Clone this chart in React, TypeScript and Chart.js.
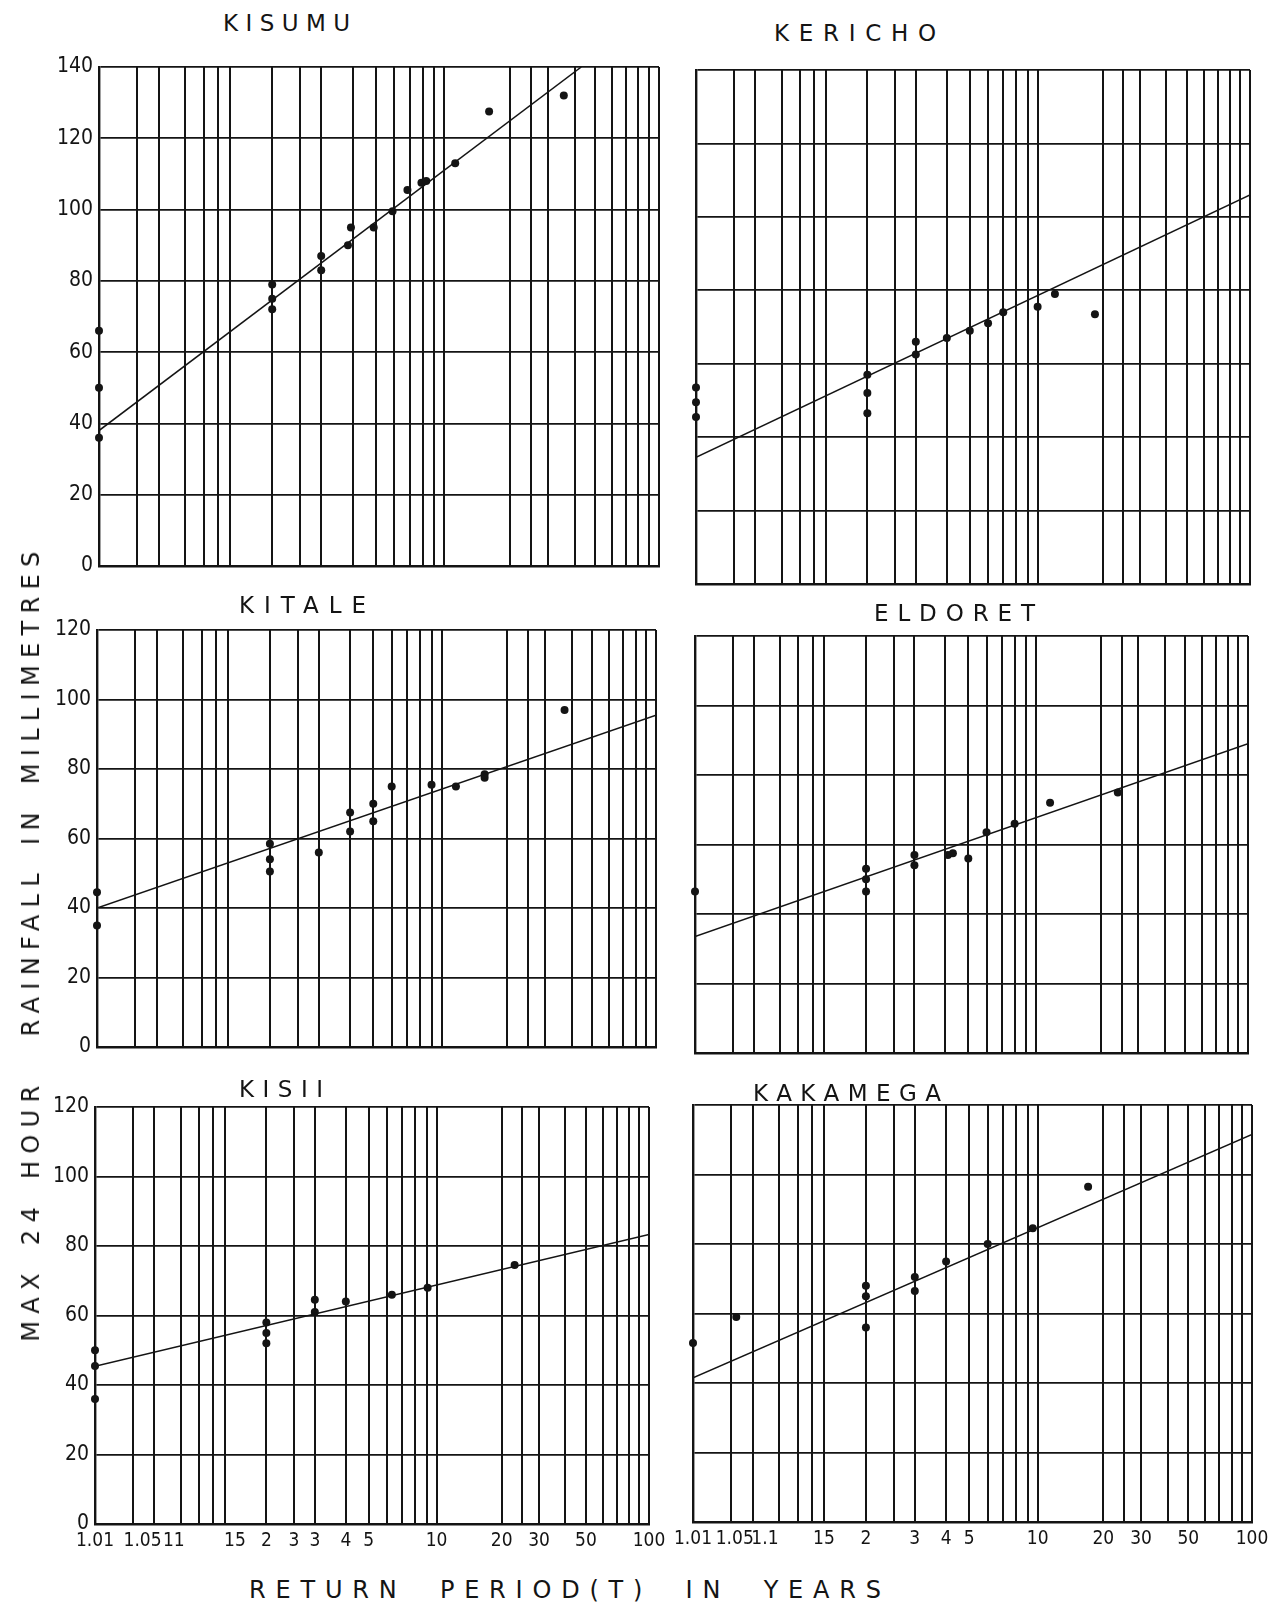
import React, { useEffect, useRef } from "react";
import { Chart, registerables } from "chart.js";

Chart.register(...registerables);

const INK = "#141414";
const TICK_FONT = "'Liberation Sans Narrow', 'DejaVu Sans Condensed', 'Liberation Sans', sans-serif";
const SANS = "'DejaVu Sans', 'Liberation Sans', sans-serif";

// Gumbel reduced variate for a return period T (years)
const gumbel = (T: number) => -Math.log(-Math.log(1 - 1 / T));

// Vertical rulings of the Gumbel probability paper (return periods, years)
const gridReturnPeriods = [1.01, 1.05, 1.1, 1.2, 1.3, 1.4, 1.5, 2, 2.5, 3, 4, 5, 6, 7, 8, 9, 10, 20, 25, 30, 40, 50, 60, 70, 80, 90, 100];

// Printed return-period labels under the bottom panels, and where each is printed (return period)
const leftAxisLabels = ["1.01", "1.05", "11", "15", "2", "3", "3", "4", "5", "10", "20", "30", "50", "100"];
const leftAxisLabelAt = [1.01, 1.07, 1.17, 1.6, 2, 2.5, 3, 4, 5, 10, 20, 30, 50, 100];
const rightAxisLabels = ["1.01", "1.05", "1.1", "15", "2", "3", "4", "5", "10", "20", "30", "50", "100"];
const rightAxisLabelAt = [1.01, 1.057, 1.14, 1.5, 2, 3, 4, 5, 10, 20, 30, 50, 100];

// KISUMU
const kisumuT = [1.01, 1.01, 1.01, 2, 2, 2, 3, 3, 3.83, 3.94, 4.9, 5.9, 6.85, 7.9, 8.3, 11.2, 16, 35.6];
const kisumuMm = [66, 50, 36, 79, 75, 72, 87, 83, 90, 95, 95, 99.5, 105.5, 107.5, 108, 113, 127.5, 132];
const kisumuLineT = [1.01, 43];
const kisumuLineMm = [38, 140];

// KERICHO
const kerichoT = [1.01, 1.01, 1.01, 2, 2, 2, 3, 3, 4, 5, 6, 7, 10, 12, 18.4];
const kerichoMm = [53.5, 49.5, 45.5, 57, 52, 46.5, 66, 62.5, 67, 69, 71, 74, 75.5, 79, 73.5];
const kerichoLineT = [1.01, 100];
const kerichoLineMm = [34.5, 106];

// KITALE
const kitaleT = [1.01, 1.01, 2, 2, 2, 3, 4, 4, 5, 5, 6, 9, 11.6, 15.7, 15.7, 37];
const kitaleMm = [44.5, 35, 58.5, 54, 50.5, 56, 62, 67.5, 70, 65, 75, 75.5, 75, 77.5, 78.5, 97];
const kitaleLineT = [1.01, 100];
const kitaleLineMm = [40, 95.5];

// ELDORET
const eldoretT = [1.01, 2, 2, 2, 3, 3, 4.1, 4.3, 5, 6, 8, 11.6, 24];
const eldoretMm = [46.5, 53, 50, 46.5, 57, 54, 57, 57.5, 56, 63.5, 66, 72, 75];
const eldoretLineT = [1.01, 100];
const eldoretLineMm = [33.5, 89];

// KISII
const kisiiT = [1.01, 1.01, 1.01, 2, 2, 2, 3, 3, 4, 6.3, 9.1, 23];
const kisiiMm = [50, 45.5, 36, 58, 55, 52, 64.5, 61, 64, 66, 68, 74.5];
const kisiiLineT = [1.01, 100];
const kisiiLineMm = [45.4, 83.3];

// KAKAMEGA
const kakamegaT = [1.01, 1.06, 2, 2, 2, 3, 3, 4, 6, 9.5, 17];
const kakamegaMm = [51.5, 59, 68, 65, 56, 70.5, 66.5, 75, 80, 84.5, 96.5];
const kakamegaLineT = [1.01, 100];
const kakamegaLineMm = [41.5, 111.5];

type PanelCfg = {
  name: string;
  T: number[];
  mm: number[];
  lineT: number[];
  lineMm: number[];
  yMax: number;
  showY: boolean;
  labelAt: number[] | null;
  labels: string[] | null;
  plot: [number, number, number, number]; // left, top, right, bottom (page px)
  title: [number, number, number]; // left, right, center y
};

const panels: PanelCfg[] = [
  { name: "KISUMU", T: kisumuT, mm: kisumuMm, lineT: kisumuLineT, lineMm: kisumuLineMm, yMax: 140, showY: true, labelAt: null, labels: null, plot: [99, 67, 659, 566], title: [223, 350, 23] },
  { name: "KERICHO", T: kerichoT, mm: kerichoMm, lineT: kerichoLineT, lineMm: kerichoLineMm, yMax: 140, showY: false, labelAt: null, labels: null, plot: [696, 70, 1250, 584], title: [774, 936, 33] },
  { name: "KITALE", T: kitaleT, mm: kitaleMm, lineT: kitaleLineT, lineMm: kitaleLineMm, yMax: 120, showY: true, labelAt: null, labels: null, plot: [97, 630, 656, 1047], title: [239, 366, 605] },
  { name: "ELDORET", T: eldoretT, mm: eldoretMm, lineT: eldoretLineT, lineMm: eldoretLineMm, yMax: 120, showY: false, labelAt: null, labels: null, plot: [695, 636, 1248, 1053], title: [874, 1035, 613] },
  { name: "KISII", T: kisiiT, mm: kisiiMm, lineT: kisiiLineT, lineMm: kisiiLineMm, yMax: 120, showY: true, labelAt: leftAxisLabelAt, labels: leftAxisLabels, plot: [95, 1107, 649, 1524], title: [239, 323, 1089] },
  { name: "KAKAMEGA", T: kakamegaT, mm: kakamegaMm, lineT: kakamegaLineT, lineMm: kakamegaLineMm, yMax: 120, showY: false, labelAt: rightAxisLabelAt, labels: rightAxisLabels, plot: [693, 1105, 1252, 1522], title: [753, 941, 1093] },
];

const PAD_L = 60;
const PAD_R = 24;
const PAD_T = 16;

const near = (a: number, b: number) => Math.abs(a - b) < 1e-9;

function Panel({ cfg }: { cfg: PanelCfg }) {
  const ref = useRef<HTMLCanvasElement>(null);
  const [l, t, r, b] = cfg.plot;
  const padB = cfg.labels ? 44 : 16;
  const width = r - l + PAD_L + PAD_R;
  const height = b - t + PAD_T + padB;

  useEffect(() => {
    if (!ref.current) return;
    const gridVals = gridReturnPeriods.map(gumbel);
    const labelVals = (cfg.labelAt || []).map(gumbel);
    const tickVals = [...gridVals];
    labelVals.forEach((v) => {
      if (!tickVals.some((g) => near(g, v))) tickVals.push(v);
    });
    tickVals.sort((a, c) => a - c);

    const chart = new Chart(ref.current, {
      type: "scatter",
      data: {
        datasets: [
          {
            label: "fit",
            data: cfg.lineT.map((T, i) => ({ x: gumbel(T), y: cfg.lineMm[i] })),
            showLine: true,
            borderColor: INK,
            borderWidth: 1.5,
            pointRadius: 0,
            fill: false,
          },
          {
            label: "obs",
            data: cfg.T.map((T, i) => ({ x: gumbel(T), y: cfg.mm[i] })),
            backgroundColor: INK,
            borderColor: INK,
            borderWidth: 0,
            pointRadius: 4,
            clip: false,
          } as any,
        ],
      },
      options: {
        animation: false,
        responsive: false,
        events: [],
        layout: { padding: { left: 0, right: PAD_R, top: PAD_T, bottom: 0 } },
        plugins: { legend: { display: false }, tooltip: { enabled: false } },
        scales: {
          x: {
            type: "linear",
            min: gumbel(1.01),
            max: gumbel(100),
            afterBuildTicks: (s: any) => {
              s.ticks = tickVals.map((v) => ({ value: v }));
            },
            afterFit: (s: any) => {
              s.height = padB;
              s.paddingLeft = 0;
              s.paddingRight = 0;
            },
            ticks: {
              display: !!cfg.labels,
              autoSkip: false,
              maxRotation: 0,
              minRotation: 0,
              padding: 6,
              color: INK,
              font: { family: TICK_FONT, size: 19 },
              callback: (v: any) => {
                if (!cfg.labels) return "";
                const k = labelVals.findIndex((lv) => near(lv, Number(v)));
                return k >= 0 ? cfg.labels[k] : "";
              },
            },
            grid: {
              color: (ctx: any) => {
                const v = ctx.tick ? ctx.tick.value : NaN;
                return gridVals.some((g) => near(g, v)) ? INK : "rgba(0,0,0,0)";
              },
              lineWidth: 2,
              drawTicks: false,
            },
            border: { display: true, color: INK, width: 2.4 },
          },
          y: {
            type: "linear",
            min: 0,
            max: cfg.yMax,
            afterFit: (s: any) => {
              s.width = PAD_L;
              s.paddingTop = 0;
              s.paddingBottom = 0;
            },
            ticks: {
              display: cfg.showY,
              stepSize: 20,
              padding: 6,
              color: INK,
              font: { family: TICK_FONT, size: 21 },
            },
            grid: { color: INK, lineWidth: 1.8, drawTicks: false },
            border: { display: true, color: INK, width: 2.4 },
          },
        },
      } as any,
    });
    return () => chart.destroy();
  }, []);

  return (
    <canvas
      ref={ref}
      width={width}
      height={height}
      style={{ position: "absolute", left: l - PAD_L, top: t - PAD_T, width, height }}
    />
  );
}

let measureCtx: CanvasRenderingContext2D | null = null;
function textWidth(text: string, font: string) {
  if (!measureCtx) measureCtx = document.createElement("canvas").getContext("2d");
  if (!measureCtx) return text.length * 14;
  measureCtx.font = font;
  return measureCtx.measureText(text).width;
}

function spacingFor(text: string, size: number, target: number, wordSpacing: number) {
  const natural = textWidth(text, `${size}px ${SANS}`) + wordSpacing * (text.split(" ").length - 1);
  return (target - natural) / (text.length - 1);
}

function Title({ text, left, right, cy, size }: { text: string; left: number; right: number; cy: number; size: number }) {
  const ls = spacingFor(text, size, right - left, 0);
  return (
    <div
      style={{
        position: "absolute",
        left,
        top: cy - size * 0.48,
        fontFamily: SANS,
        fontSize: size,
        lineHeight: `${size}px`,
        letterSpacing: ls,
        whiteSpace: "pre",
        color: INK,
      }}
    >
      {text}
    </div>
  );
}

const yTitle = "MAX 24 HOUR  RAINFALL IN MILLIMETRES";
const xTitle = "RETURN PERIOD(T) IN YEARS";

export default function App() {
  const yLen = 790;
  const yLs = spacingFor(yTitle, 24, yLen, 6);
  return (
    <div style={{ position: "absolute", left: 0, top: 0, width: 1275, height: 1607, background: "#ffffff", overflow: "hidden" }}>
      {panels.map((p) => (
        <Panel key={p.name} cfg={p} />
      ))}
      {panels.map((p) => (
        <Title key={"t" + p.name} text={p.name} left={p.title[0]} right={p.title[1]} cy={p.title[2]} size={23} />
      ))}
      <div
        style={{
          position: "absolute",
          left: 31,
          top: 943,
          transform: "translate(-50%, -50%) rotate(-90deg)",
          fontFamily: SANS,
          fontSize: 24,
          lineHeight: "24px",
          letterSpacing: yLs,
          wordSpacing: 6,
          whiteSpace: "pre",
          color: INK,
        }}
      >
        {yTitle}
      </div>
      <div
        style={{
          position: "absolute",
          left: 249,
          top: 1590 - 12,
          fontFamily: SANS,
          fontSize: 24,
          lineHeight: "24px",
          letterSpacing: spacingFor(xTitle, 24, 632, 16),
          wordSpacing: 16,
          whiteSpace: "pre",
          color: INK,
        }}
      >
        {xTitle}
      </div>
    </div>
  );
}
